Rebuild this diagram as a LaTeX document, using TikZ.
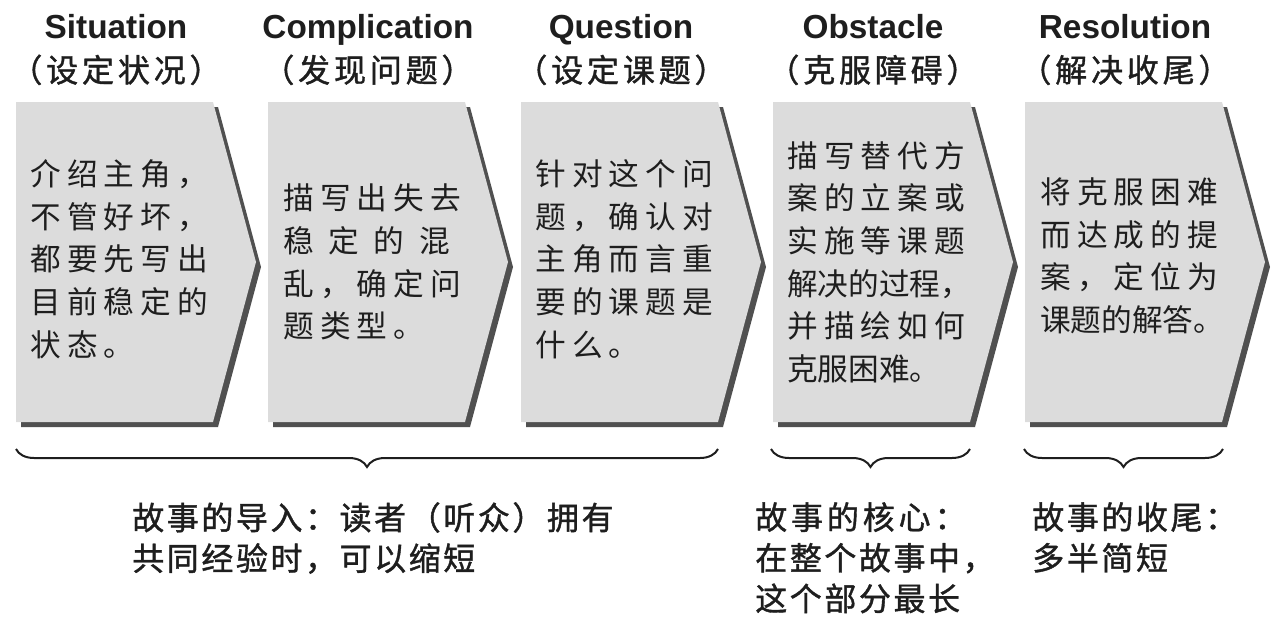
\documentclass[tikz,border=0pt]{standalone}
\usepackage{fontspec}
\setmainfont{Liberation Sans}
\newfontfamily\cjk{Noto Sans CJK SC}
\newfontfamily\cjkwide[LetterSpace=20]{Noto Sans CJK SC}
\newfontfamily\cjknote[LetterSpace=8,FakeBold=1.2]{Noto Sans CJK SC}
\newfontfamily\cjkhead[LetterSpace=12,FakeBold=1.2]{Noto Sans CJK SC}
\usetikzlibrary{decorations.pathreplacing}

\definecolor{stagefill}{RGB}{220,220,220}
\definecolor{stageshadow}{RGB}{80,80,80}
\definecolor{ink}{RGB}{30,30,30}

\begin{document}
\begin{tikzpicture}[x=0.75pt, y=-0.75pt,
    title/.style={font=\fontsize{25}{27}\selectfont\bfseries, text=ink, inner sep=0pt, anchor=base},
    subtitle/.style={font=\cjkhead\fontsize{24}{26}\selectfont, text=ink, inner sep=0pt, anchor=base},
    body/.style={font=\cjkwide\fontsize{23}{32}\selectfont, text=ink, align=left, anchor=west, inner sep=0pt},
    note/.style={font=\cjknote\fontsize{24}{30.5}\selectfont, text=ink, align=left, anchor=north west, inner sep=0pt},
    brace/.style={decorate, decoration={brace, mirror, amplitude=13.5pt}, line width=1.5pt, draw=ink}]

    \useasboundingbox (0,0) rectangle (1286,628);

    % five stages with their headings
    \foreach \i/\x/\en/\zh in {1/16/Situation/设定状况, 2/268/Complication/发现问题,
        3/521/Question/设定课题, 4/773/Obstacle/克服障碍, 5/1025/Resolution/解决收尾} {
        \fill [stageshadow] (\x+5,107) -- ++(197,0) -- ++(43,160) -- ++(-43,160) -- ++(-197,0) -- cycle ;
        \fill [stagefill] (\x,102) -- ++(197,0) -- ++(43,160) -- ++(-43,160) -- ++(-197,0) -- cycle ;
        \node [title] (en\i) at (\x+100,38) {\en} ;
        \node [subtitle] (zh\i) at (\x+100,82) {（\zh）} ;
    }

    \node [body] (sit) at (30,259) {介绍主角，\\不管好坏，\\都要先写出\\目前稳定的\\状态。} ;
    \node [body] (com) at (283,262) {描写出失去\\稳\hspace{11pt}定\hspace{11pt}的\hspace{11pt}混\\乱，确定问\\题类型。} ;
    \node [body] (que) at (535,259) {针对这个问\\题，确认对\\主角而言重\\要的课题是\\什么。} ;
    \node [body] (obs) at (787,262) {描写替代方\\案的立案或\\实施等课题\\{\cjk 解决的过程，}\\并描绘如何\\{\cjk 克服困难。}} ;
    \node [body] (res) at (1040,256) {将克服困难\\而达成的提\\案，定位为\\{\cjk 课题的解答。}} ;

    % braces under the stages
    \coordinate (intro-a) at (16,449) ;
    \coordinate (intro-b) at (718,449) ;
    \coordinate (core-a) at (771,449) ;
    \coordinate (core-b) at (970,449) ;
    \coordinate (close-a) at (1024,449) ;
    \coordinate (close-b) at (1223,449) ;
    \draw [brace] (intro-a) -- (intro-b) ;
    \draw [brace] (core-a) -- (core-b) ;
    \draw [brace] (close-a) -- (close-b) ;

    \node [note] (intro) at (132,502) {故事的导入：读者（听众）拥有\\共同经验时，可以缩短} ;
    \node [note] (core) at (755,502) {{\cjkhead 故事的核心：}\\在整个故事中，\\这个部分最长} ;
    \node [note] (close) at (1032,502) {故事的收尾：\\多半简短} ;
\end{tikzpicture}
\end{document}
